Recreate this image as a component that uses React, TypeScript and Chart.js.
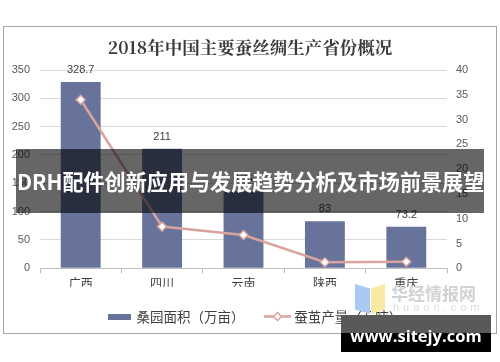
import React, { useEffect, useRef } from "react";
import { Chart, registerables } from "chart.js";

Chart.register(...registerables);

const titleText = "2018年中国主要蚕丝绸生产省份概况";
const categories = ["广西", "四川", "云南", "陕西", "重庆"];
const seriesNames = ["桑园面积（万亩）", "蚕茧产量（万吨）"];
const mulberryArea = [328.7, 211, 136, 83, 73.2];
const cocoonOutput = [34, 8.4, 6.7, 1.2, 1.3];
const leftAxis = { min: 0, max: 350, step: 50 };
const rightAxis = { min: 0, max: 40, step: 5 };
const bannerText = "DRH配件创新应用与发展趋势分析及市场前景展望";
const watermarkName = "华经情报网";
const watermarkDomain = "huaon.com";
const siteText = "www.sitejy.com";

const BAR_COLOR = "#68739b";
const LINE_COLOR = "#d9a3a0";
const CJK = "'Noto Sans CJK SC', 'Noto Sans', sans-serif";
const LATIN = "'Liberation Sans', Arial, sans-serif";

function makeBarSwatch() {
  const c = document.createElement("canvas");
  c.width = 23;
  c.height = 6;
  const ctx = c.getContext("2d")!;
  ctx.fillStyle = BAR_COLOR;
  ctx.fillRect(0, 0, 23, 6);
  return c;
}

function makeLineSwatch() {
  const c = document.createElement("canvas");
  c.width = 27;
  c.height = 11;
  const ctx = c.getContext("2d")!;
  ctx.strokeStyle = LINE_COLOR;
  ctx.lineWidth = 2.5;
  ctx.beginPath();
  ctx.moveTo(0, 5.5);
  ctx.lineTo(27, 5.5);
  ctx.stroke();
  ctx.beginPath();
  ctx.moveTo(13.5, 1.5);
  ctx.lineTo(17.5, 5.5);
  ctx.lineTo(13.5, 9.5);
  ctx.lineTo(9.5, 5.5);
  ctx.closePath();
  ctx.fillStyle = "#ffffff";
  ctx.fill();
  ctx.lineWidth = 1.5;
  ctx.stroke();
  return c;
}

const frame = {
  id: "frame",
  beforeDraw(chart: any) {
    const { ctx } = chart;
    ctx.save();
    ctx.fillStyle = "#ffffff";
    ctx.fillRect(0, 0, chart.width, chart.height);
    ctx.strokeStyle = "#a6a6a6";
    ctx.lineWidth = 1;
    ctx.strokeRect(3.5, 26.5, 493, 307);
    ctx.restore();
  },
};

const legendShift = {
  id: "legendShift",
  afterLayout(chart: any) {
    if (chart.legend) {
      chart.legend.left += 6;
      chart.legend.right += 6;
    }
  },
};

const barLabels = {
  id: "barLabels",
  afterDatasetsDraw(chart: any) {
    const { ctx } = chart;
    const meta = chart.getDatasetMeta(0);
    ctx.save();
    ctx.fillStyle = "#404040";
    ctx.font = `11px ${LATIN}`;
    ctx.textAlign = "center";
    ctx.textBaseline = "middle";
    meta.data.forEach((el: any, i: number) => {
      ctx.fillText(String(mulberryArea[i]), el.x, el.y - 12);
    });
    ctx.restore();
  },
};

export default function App() {
  const ref = useRef<HTMLCanvasElement>(null);

  useEffect(() => {
    if (!ref.current) return;
    const barSwatch = makeBarSwatch();
    const lineSwatch = makeLineSwatch();
    const chart = new Chart(ref.current, {
      type: "bar",
      data: {
        labels: categories,
        datasets: [
          {
            type: "bar",
            label: seriesNames[0],
            data: mulberryArea,
            backgroundColor: BAR_COLOR,
            categoryPercentage: 1,
            barPercentage: 0.49,
            yAxisID: "y",
            order: 2,
          },
          {
            type: "line",
            label: seriesNames[1],
            data: cocoonOutput,
            borderColor: LINE_COLOR,
            borderWidth: 2.5,
            pointStyle: "rectRot",
            pointRadius: 4.5,
            pointBackgroundColor: "#ffffff",
            pointBorderColor: LINE_COLOR,
            pointBorderWidth: 1.5,
            yAxisID: "y1",
            order: 1,
          } as any,
        ],
      },
      options: {
        animation: false,
        responsive: true,
        maintainAspectRatio: false,
        layout: { padding: { top: 30, bottom: 28.75, left: 0, right: 0 } },
        plugins: {
          tooltip: { enabled: false },
          title: {
            display: true,
            text: titleText,
            color: "#3a3a3a",
            font: { family: "'Noto Serif CJK SC', " + CJK, size: 17.5, weight: "bold" },
            padding: { top: 6.5, bottom: 12.5 },
          },
          legend: {
            display: true,
            position: "bottom",
            labels: {
              usePointStyle: true,
              pointStyleWidth: 20,
              padding: 23,
              color: "#404040",
              font: { family: CJK, size: 13.5 },
              generateLabels: () => [
                {
                  text: seriesNames[0],
                  pointStyle: barSwatch,
                  fillStyle: BAR_COLOR,
                  strokeStyle: BAR_COLOR,
                  lineWidth: 0,
                  hidden: false,
                  datasetIndex: 0,
                  fontColor: "#404040",
                } as any,
                {
                  text: seriesNames[1],
                  pointStyle: lineSwatch,
                  fillStyle: "#ffffff",
                  strokeStyle: LINE_COLOR,
                  lineWidth: 0,
                  hidden: false,
                  datasetIndex: 1,
                  fontColor: "#404040",
                } as any,
              ],
            },
          },
        },
        scales: {
          x: {
            offset: true,
            grid: {
              display: true,
              offset: true,
              drawOnChartArea: false,
              drawTicks: true,
              tickLength: 5,
              color: "#bfbfbf",
            },
            border: { display: true, color: "#bfbfbf" },
            ticks: { color: "#404040", font: { family: CJK, size: 12 }, padding: 3 },
            afterFit: (s: any) => {
              s.height = 18.5;
            },
          },
          y: {
            position: "left",
            min: leftAxis.min,
            max: leftAxis.max,
            ticks: { stepSize: leftAxis.step, color: "#595959", font: { family: LATIN, size: 11 }, padding: 10 },
            grid: { color: "#d9d9d9", drawTicks: false },
            border: { display: false },
            afterFit: (s: any) => {
              s.width = 40;
            },
          },
          y1: {
            position: "right",
            min: rightAxis.min,
            max: rightAxis.max,
            ticks: { stepSize: rightAxis.step, color: "#595959", font: { family: LATIN, size: 11 }, padding: 9 },
            grid: { drawOnChartArea: false, drawTicks: false },
            border: { display: false },
            afterFit: (s: any) => {
              s.width = 53;
            },
          },
        },
      },
      plugins: [frame, legendShift, barLabels],
    });
    return () => chart.destroy();
  }, []);

  return (
    <div style={{ position: "fixed", left: 0, top: 0, width: 500, height: 362, background: "#fff", overflow: "hidden" }}>
      <div style={{ position: "absolute", left: 0, top: 0, width: 500, height: 362 }}>
        <canvas ref={ref} />
      </div>
      {/* banner overlay */}
      <div
        style={{
          position: "absolute",
          left: 16,
          top: 149,
          width: 468,
          height: 64,
          background: "rgba(0,0,0,0.6)",
        }}
      />
      <div
        style={{
          position: "absolute",
          left: 17,
          top: 167,
          height: 28,
          lineHeight: "28px",
          color: "#ffffff",
          fontFamily: CJK,
          fontWeight: 700,
          fontSize: 21.1,
          whiteSpace: "nowrap",
        }}
      >
        {bannerText}
      </div>
      {/* watermark logo */}
      <div
        style={{
          position: "absolute",
          left: 355,
          top: 284,
          width: 15,
          height: 30,
          background: "#a9c9f2",
          clipPath: "polygon(0 0, 100% 15%, 100% 100%, 0 85%)",
        }}
      />
      <div
        style={{
          position: "absolute",
          left: 371,
          top: 284,
          width: 14,
          height: 30,
          background: "#fae9a0",
          clipPath: "polygon(0 15%, 100% 0, 100% 85%, 0 100%)",
        }}
      />
      <div
        style={{
          position: "absolute",
          left: 391,
          top: 282,
          lineHeight: "22px",
          color: "#d2d2d2",
          fontFamily: CJK,
          fontWeight: 700,
          fontSize: 17,
          whiteSpace: "nowrap",
        }}
      >
        {watermarkName}
      </div>
      <div
        style={{
          position: "absolute",
          left: 393,
          top: 301,
          lineHeight: "12px",
          color: "#dddddd",
          fontFamily: LATIN,
          fontSize: 11,
          letterSpacing: 4,
          whiteSpace: "nowrap",
        }}
      >
        {watermarkDomain}
      </div>
      {/* site box */}
      <div style={{ position: "absolute", left: 341, top: 315, width: 150, height: 18, background: "#595959" }} />
      <div style={{ position: "absolute", left: 341, top: 333, width: 150, height: 19, background: "#000000" }} />
      <div
        style={{
          position: "absolute",
          left: 341,
          top: 324,
          width: 150,
          textAlign: "center",
          lineHeight: "24px",
          color: "#ffffff",
          fontFamily: "'Open Sans', 'DejaVu Sans', sans-serif",
          fontWeight: 700,
          fontSize: 16.5,
          whiteSpace: "nowrap",
        }}
      >
        {siteText}
      </div>
    </div>
  );
}
